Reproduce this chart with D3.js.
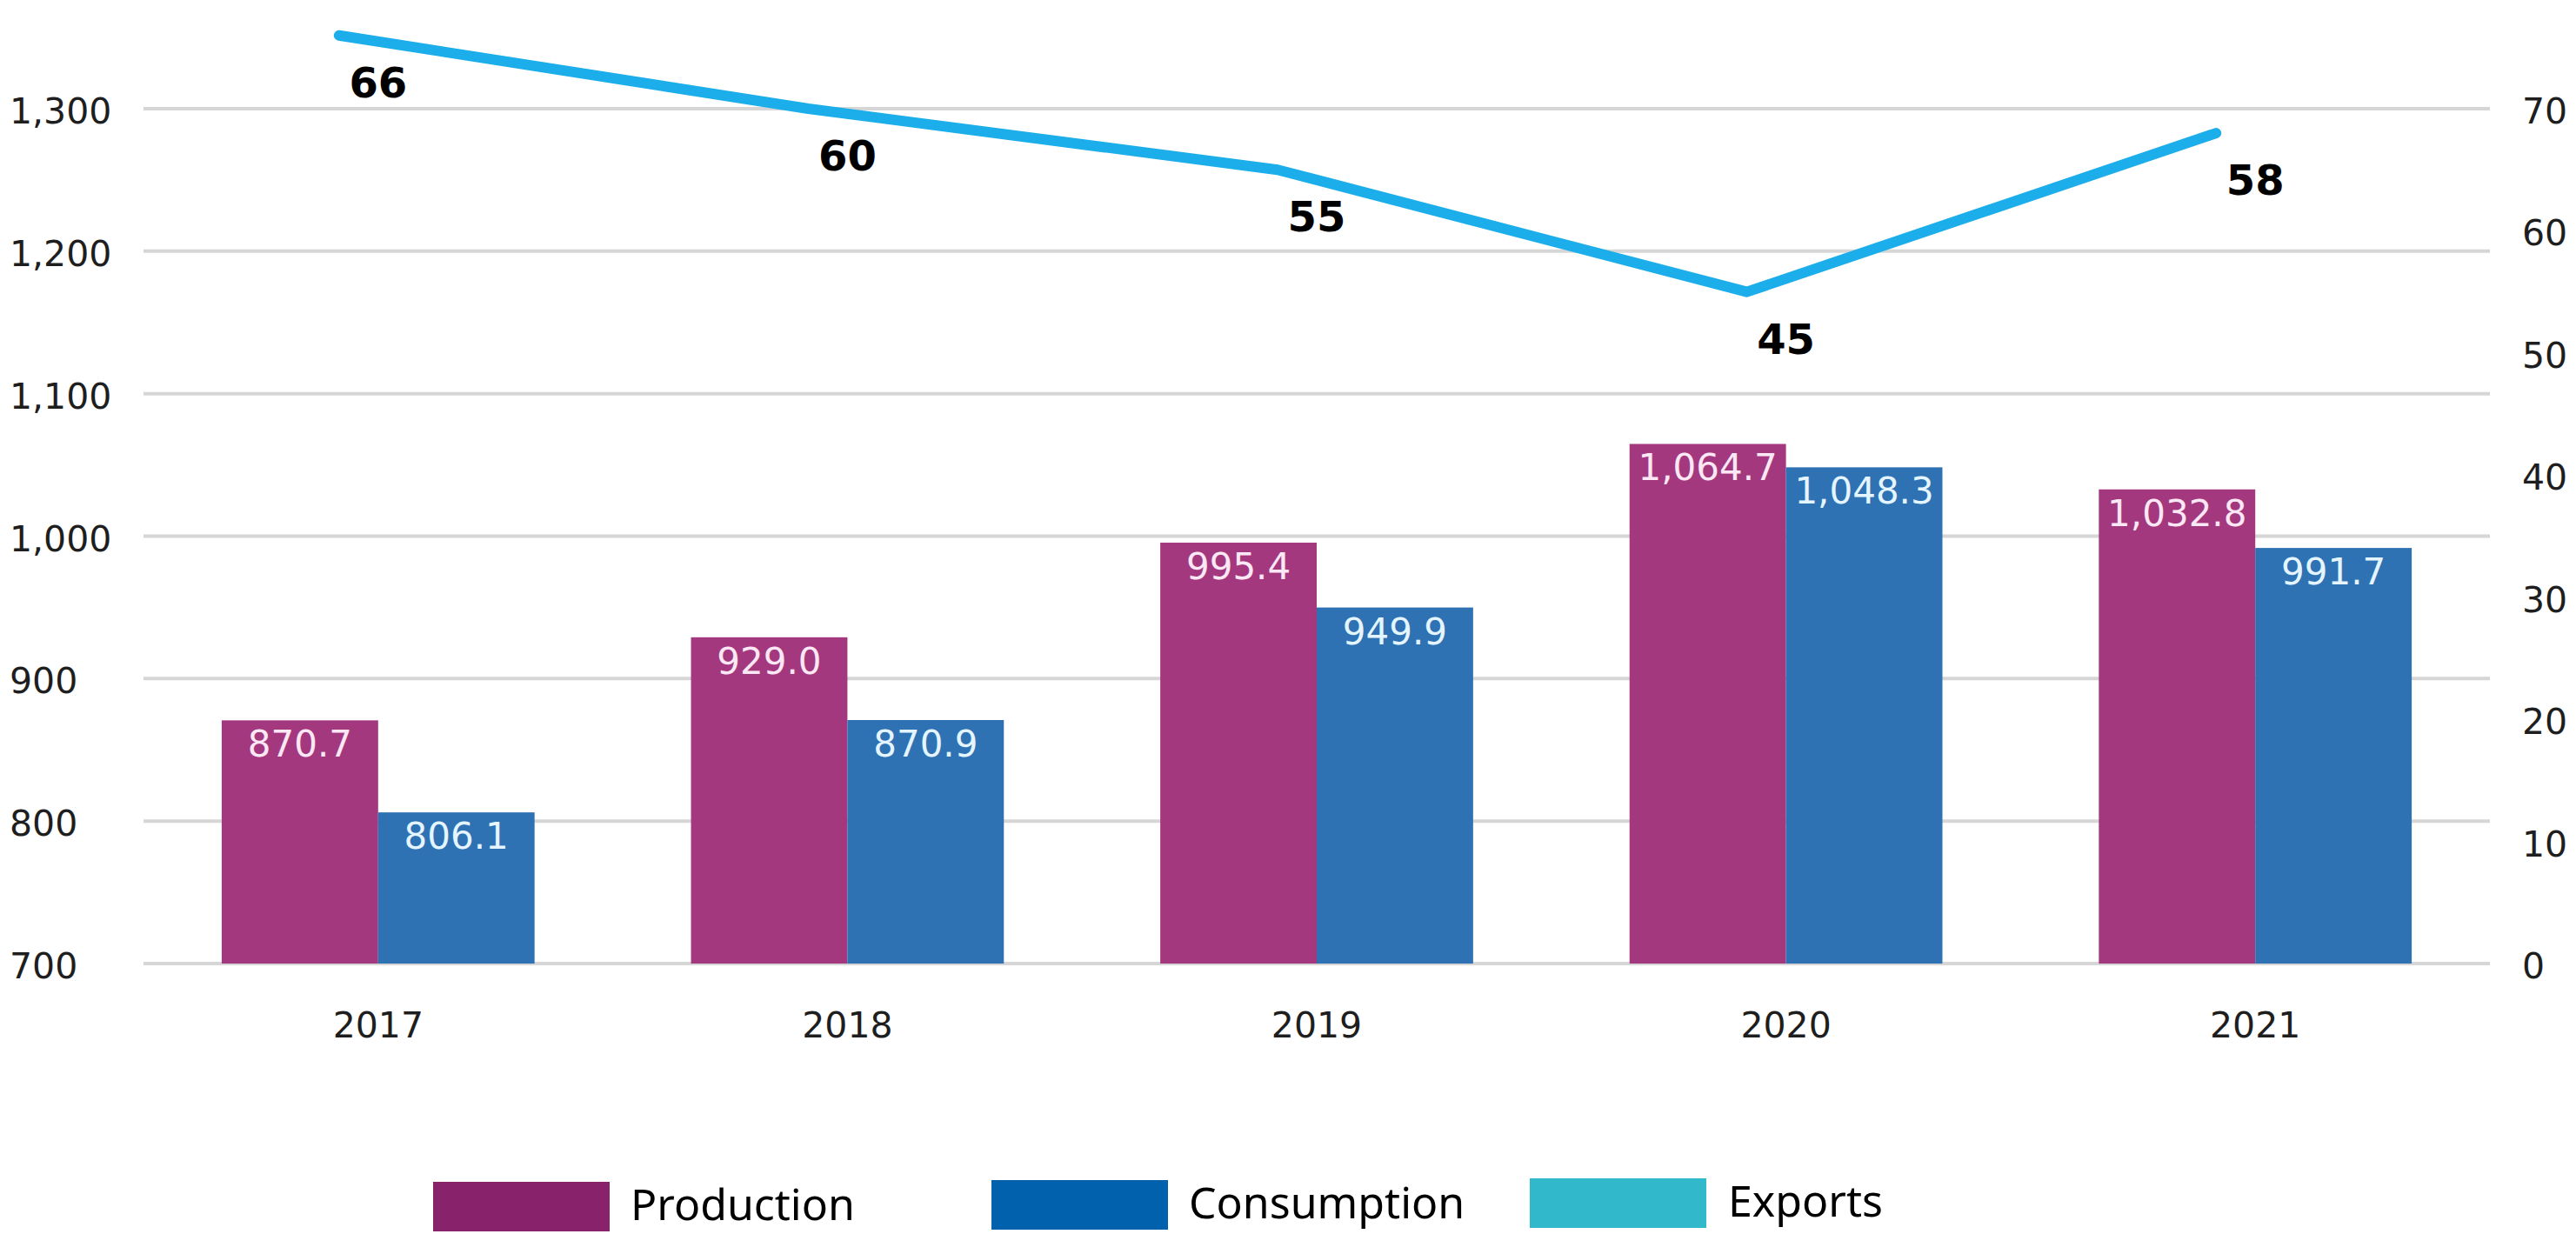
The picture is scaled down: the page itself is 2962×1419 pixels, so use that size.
<!DOCTYPE html>
<html>
<head>
<meta charset="utf-8">
<script src="https://cdn.jsdelivr.net/npm/d3@7"></script>
<style>
  html, body { margin: 0; padding: 0; background: #ffffff; }
  svg { display: block; }
</style>
</head>
<body>
<svg id="chart" width="2962" height="1419"></svg>
<script>
// Data
const years = ["2017", "2018", "2019", "2020", "2021"];
const production = [870.7, 929.0, 995.4, 1064.7, 1032.8];
const consumption = [806.1, 870.9, 949.9, 1048.3, 991.7];
const exportsVals = [66, 60, 55, 45, 58];
const leftTicks = [700, 800, 900, 1000, 1100, 1200, 1300];
const rightTicks = [0, 10, 20, 30, 40, 50, 60, 70];
const seriesNames = ["Production", "Consumption", "Exports"];

// Styles
const barColors = { Production: "#a4387f", Consumption: "#2e72b3" };
const legendColors = { Production: "#88226a", Consumption: "#0261ad", Exports: "#31b9cb" };
const lineColor = "#1caeea";
const axisFont = "'DejaVu Sans', Verdana, sans-serif";
const legendFont = "'Noto Sans', 'Open Sans', sans-serif";

const svg = d3.select("#chart");

const plot = { left: 165, right: 2863, top: 125, bottom: 1108 };

// Scales
const x0 = d3.scaleBand().domain(years).range([plot.left, plot.right]).padding(0);
const x1 = d3.scaleBand().domain(["Production", "Consumption"])
  .range([0, x0.bandwidth()]).paddingInner(0).paddingOuter(0.5);
const yLeft = d3.scaleLinear().domain([700, 1300]).range([plot.bottom, plot.top]);
const yRight = d3.scaleLinear().domain([0, 70]).range([plot.bottom, plot.top]);
// exports line layer sits on its own scale, offset from the right axis
const yLine = d3.scaleLinear().domain([-10, 60]).range([plot.bottom, plot.top]);
const xLine = d3.scalePoint().domain(years)
  .range([plot.left - 45, plot.right - 45]).padding(0.5);

// Gridlines
svg.append("g")
  .selectAll("line")
  .data(leftTicks)
  .join("line")
  .attr("x1", plot.left)
  .attr("x2", plot.right)
  .attr("y1", d => yLeft(d))
  .attr("y2", d => yLeft(d))
  .attr("stroke", "#d6d6d6")
  .attr("stroke-width", 4);

// Left axis labels
const fmtAxis = d3.format(",");
svg.append("g")
  .selectAll("text")
  .data(leftTicks)
  .join("text")
  .attr("x", 11)
  .attr("y", d => yLeft(d) + 17)
  .attr("font-family", axisFont)
  .attr("font-size", 41)
  .attr("fill", "#1e1e1e")
  .text(d => fmtAxis(d));

// Right axis labels
svg.append("g")
  .selectAll("text")
  .data(rightTicks)
  .join("text")
  .attr("x", 2900)
  .attr("y", d => yRight(d) + 17)
  .attr("font-family", axisFont)
  .attr("font-size", 41)
  .attr("fill", "#1e1e1e")
  .text(d => d);

// Category labels
svg.append("g")
  .selectAll("text")
  .data(years)
  .join("text")
  .attr("x", d => x0(d) + x0.bandwidth() / 2)
  .attr("y", 1193)
  .attr("text-anchor", "middle")
  .attr("font-family", axisFont)
  .attr("font-size", 41)
  .attr("fill", "#1e1e1e")
  .text(d => d);

// Bars
const barData = [];
years.forEach((yr, i) => {
  barData.push({ year: yr, series: "Production", value: production[i] });
  barData.push({ year: yr, series: "Consumption", value: consumption[i] });
});

const fmtVal = d3.format(",.1f");
const bars = svg.append("g");
bars.selectAll("rect")
  .data(barData)
  .join("rect")
  .attr("x", d => x0(d.year) + x1(d.series))
  .attr("width", x1.bandwidth())
  .attr("y", d => yLeft(d.value))
  .attr("height", d => yLeft(700) - yLeft(d.value))
  .attr("fill", d => barColors[d.series]);

bars.selectAll("text")
  .data(barData)
  .join("text")
  .attr("x", d => x0(d.year) + x1(d.series) + x1.bandwidth() / 2)
  .attr("y", d => yLeft(d.value) + 42)
  .attr("text-anchor", "middle")
  .attr("font-family", axisFont)
  .attr("font-size", 42)
  .attr("fill", d => d.series === "Production" ? "#fbe8f4" : "#e4f5ff")
  .text(d => fmtVal(d.value));

// Exports line
const lineData = years.map((yr, i) => ({ year: yr, value: exportsVals[i] }));
const lineGen = d3.line()
  .x(d => xLine(d.year))
  .y(d => yLine(d.value));

svg.append("path")
  .datum(lineData)
  .attr("d", lineGen)
  .attr("fill", "none")
  .attr("stroke", lineColor)
  .attr("stroke-width", 12)
  .attr("stroke-linecap", "round")
  .attr("stroke-linejoin", "round");

svg.append("g")
  .selectAll("text")
  .data(lineData)
  .join("text")
  .attr("x", d => x0(d.year) + x0.bandwidth() / 2)
  .attr("y", d => yLine(d.value) + 71)
  .attr("text-anchor", "middle")
  .attr("font-family", axisFont)
  .attr("font-weight", "bold")
  .attr("font-size", 48)
  .attr("fill", "#000000")
  .text(d => d.value);

// Legend
const legendItems = [
  { name: seriesNames[0], boxX: 498, boxY: 1359, textX: 725 },
  { name: seriesNames[1], boxX: 1140, boxY: 1357, textX: 1367 },
  { name: seriesNames[2], boxX: 1759, boxY: 1355, textX: 1987 }
];
const legend = svg.append("g");
legend.selectAll("rect")
  .data(legendItems)
  .join("rect")
  .attr("x", d => d.boxX)
  .attr("y", d => d.boxY)
  .attr("width", 203)
  .attr("height", 57)
  .attr("fill", d => legendColors[d.name]);

legend.selectAll("text")
  .data(legendItems)
  .join("text")
  .attr("x", d => d.textX)
  .attr("y", d => d.boxY + 44)
  .attr("font-family", legendFont)
  .attr("font-size", 50)
  .attr("fill", "#000000")
  .text(d => d.name);
</script>
</body>
</html>
